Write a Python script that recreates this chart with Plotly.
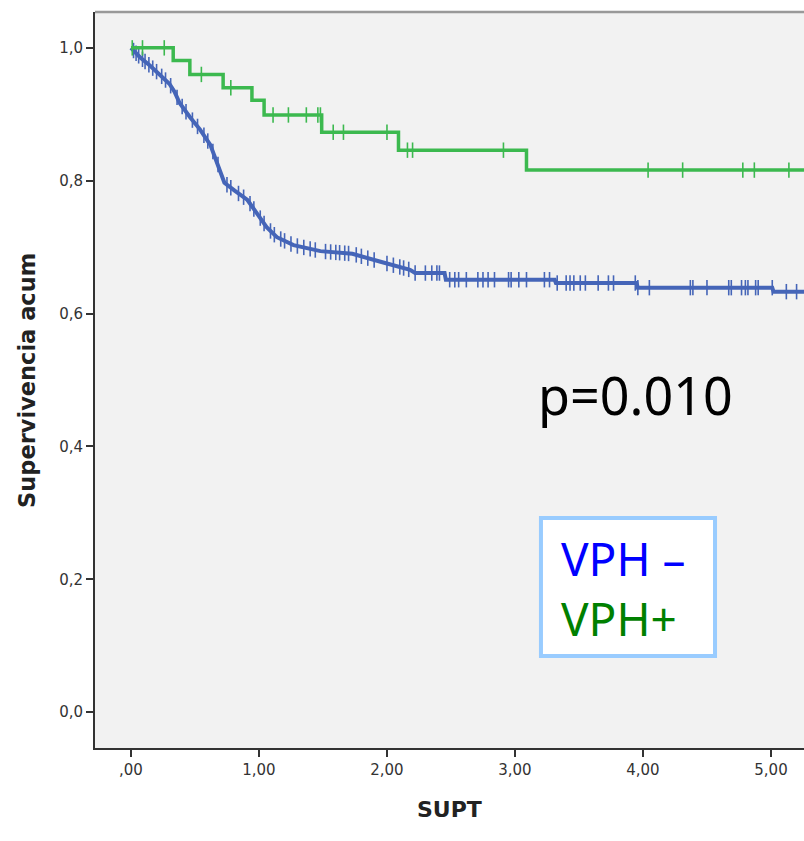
import numpy as np
import plotly.graph_objects as go

# ---- data ----
# VPH- (blue) survival curve, time in years (SUPT)
blue_t = [0.00, 0.07, 0.15, 0.23, 0.30, 0.34, 0.38, 0.46, 0.54, 0.62, 0.66, 0.70, 0.73,
          0.81, 0.91, 0.98, 1.06, 1.14, 1.27, 1.48, 1.73, 1.95, 2.18, 2.22, 2.45, 2.46,
          3.31, 3.32, 3.95, 3.96, 5.01, 5.02, 5.30]
blue_s = [1.000, 0.986, 0.973, 0.959, 0.946, 0.934, 0.917, 0.896, 0.877, 0.854, 0.834, 0.815, 0.797,
          0.785, 0.771, 0.752, 0.730, 0.715, 0.703, 0.694, 0.690, 0.678, 0.666, 0.661, 0.661, 0.651,
          0.651, 0.646, 0.646, 0.639, 0.639, 0.633, 0.633]
blue_censor = [0.02, 0.04, 0.06, 0.09, 0.11, 0.14, 0.17, 0.20, 0.24, 0.27, 0.31, 0.36, 0.40, 0.43,
               0.48, 0.52, 0.57, 0.60, 0.64, 0.68, 0.75, 0.78, 0.84, 0.88, 0.93, 0.96, 1.01, 1.04,
               1.09, 1.12, 1.17, 1.20, 1.25, 1.30, 1.35, 1.40, 1.44, 1.52, 1.56, 1.60, 1.63, 1.67,
               1.70, 1.76, 1.80, 1.85, 1.90, 2.00, 2.05, 2.10,
               2.13, 2.17, 2.22, 2.30, 2.35, 2.39, 2.41, 2.49, 2.53, 2.56, 2.62, 2.71, 2.75, 2.79,
               2.84, 2.95, 2.97, 3.03, 3.09, 3.23, 3.27, 3.33, 3.40, 3.43, 3.46, 3.51, 3.55, 3.65,
               3.73, 3.77, 3.94, 3.96, 4.05, 4.37, 4.39, 4.50, 4.67, 4.69, 4.77, 4.80, 4.82, 4.88,
               4.90, 5.01, 5.12, 5.20]

# VPH+ (green) survival curve
green_t = [0.00, 0.33, 0.46, 0.72, 0.945, 1.04, 1.49, 2.09, 3.09, 5.30]
green_s = [1.000, 0.981, 0.960, 0.940, 0.921, 0.899, 0.873, 0.846, 0.816, 0.816]
green_censor = [0.01, 0.09, 0.26, 0.55, 0.78, 1.11, 1.23, 1.37, 1.46, 1.48, 1.58, 1.66, 2.00,
                2.16, 2.20, 2.91, 4.04, 4.31, 4.78, 4.87, 5.14]

x_ticks = [0, 1, 2, 3, 4, 5]
x_tick_labels = [",00", "1,00", "2,00", "3,00", "4,00", "5,00"]
y_ticks = [0.0, 0.2, 0.4, 0.6, 0.8, 1.0]
y_tick_labels = ["0,0", "0,2", "0,4", "0,6", "0,8", "1,0"]

p_text = "p=0.010"
legend_neg = "VPH –"
legend_pos = "VPH+"

BLUE = "#4565b8"
GREEN = "#3cb94f"


def step_value(ts, ss, t):
    idx = np.searchsorted(ts, t, side="right") - 1
    return ss[max(idx, 0)]


blue_cy = [float(np.interp(t, blue_t, blue_s)) for t in blue_censor]
green_cy = [step_value(green_t, green_s, t) for t in green_censor]

fig = go.Figure()
fig.add_trace(go.Scatter(x=blue_t, y=blue_s, mode="lines", line=dict(color=BLUE, width=4),
                         showlegend=False, hoverinfo="skip"))
fig.add_trace(go.Scatter(x=blue_censor, y=blue_cy, mode="markers",
                         marker=dict(symbol="line-ns", size=11, line=dict(color=BLUE, width=1.6)),
                         showlegend=False, hoverinfo="skip"))
fig.add_trace(go.Scatter(x=green_t, y=green_s, mode="lines", line=dict(color=GREEN, width=3.5, shape="hv"),
                         showlegend=False, hoverinfo="skip"))
fig.add_trace(go.Scatter(x=green_censor, y=green_cy, mode="markers",
                         marker=dict(symbol="line-ns", size=11, line=dict(color=GREEN, width=1.6)),
                         showlegend=False, hoverinfo="skip"))

axis_font = dict(family="DejaVu Sans", size=15, color="#333333")

legend_text = (f"<span style='color:#0000ff'>{legend_neg}</span><br>"
               f"<span style='color:#008000'>{legend_pos}</span>")

fig.update_layout(
    width=804, height=841,
    margin=dict(l=95, r=0, t=12, b=93),
    paper_bgcolor="white",
    plot_bgcolor="#f2f2f2",
    font=dict(family="DejaVu Sans"),
    xaxis=dict(range=[-0.281, 5.258], tickvals=x_ticks, ticktext=x_tick_labels,
               showgrid=False, zeroline=False, showline=True, linecolor="#333333", linewidth=2,
               ticks="outside", ticklen=7, tickwidth=2, tickcolor="#333333", tickfont=axis_font),
    yaxis=dict(range=[-0.054, 1.054], tickvals=y_ticks, ticktext=y_tick_labels,
               showgrid=False, zeroline=False, showline=True, linecolor="#333333", linewidth=2,
               ticks="outside", ticklen=7, tickwidth=2, tickcolor="#333333", tickfont=axis_font),
    shapes=[
        dict(type="line", xref="paper", yref="paper", x0=0, x1=1, y0=1, y1=1,
             line=dict(color="#999999", width=2.5)),
        dict(type="rect", xref="paper", yref="paper", x0=0.629, x1=0.8745, y0=0.125, y1=0.3125,
             fillcolor="white", line=dict(color="#99ccff", width=4)),
    ],
    annotations=[
        dict(text="<b>Supervivencia acum</b>", xref="paper", yref="paper", x=-0.096, y=0.5,
             textangle=-90, showarrow=False, font=dict(family="DejaVu Sans", size=22.5, color="#222222"),
             xanchor="center", yanchor="middle"),
        dict(text="<b>SUPT</b>", xref="paper", yref="paper", x=0.5, y=-0.083,
             showarrow=False, font=dict(family="DejaVu Sans", size=22, color="#222222"),
             xanchor="center", yanchor="middle"),
        dict(text=p_text, xref="paper", yref="paper", x=(536 - 95) / 709, y=(748 - 394) / 736,
             showarrow=False, font=dict(family="Noto Sans", size=52, color="black"),
             xanchor="left", yanchor="middle"),
        dict(text=legend_text, xref="paper", yref="paper", x=(560 - 95) / 709, y=(748 - 588) / 736,
             showarrow=False, font=dict(family="Noto Sans", size=46, color="#0000ff"),
             xanchor="left", yanchor="middle", align="left", borderpad=0),
    ],
)

fig.write_html("out.html")
